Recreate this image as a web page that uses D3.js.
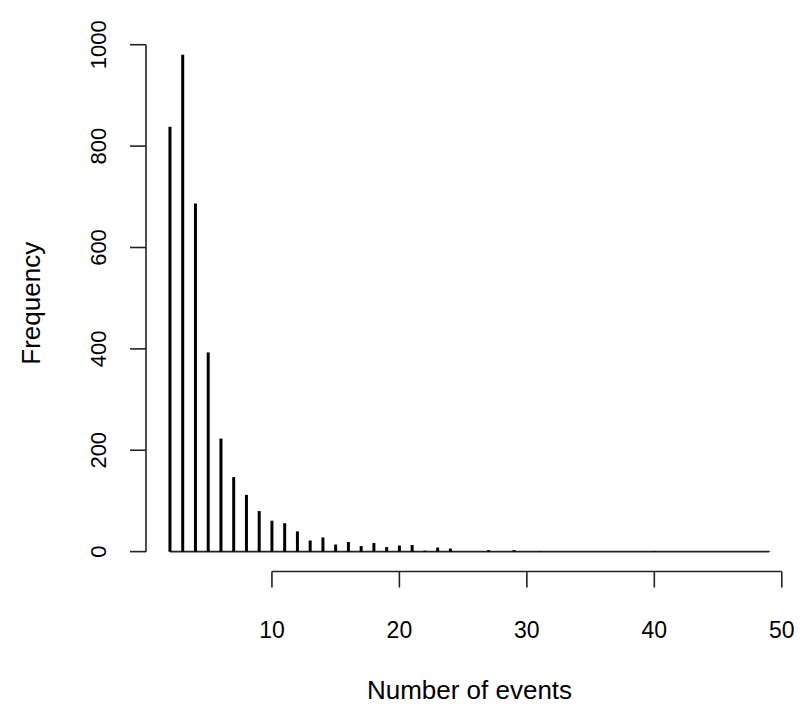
<!DOCTYPE html>
<html>
<head>
<meta charset="utf-8">
<script src="https://cdn.jsdelivr.net/npm/d3@7"></script>
<style>
  body { margin: 0; background: #fff; }
  text { font-family: "Liberation Sans", Arial, sans-serif; fill: #000; }
</style>
</head>
<body>
<svg id="chart" width="802" height="707"></svg>
<script>
// number of events and how often each occurred
const events = [2, 3, 4, 5, 6, 7, 8, 9, 10, 11, 12, 13, 14, 15, 16, 17, 18, 19, 20, 21, 22, 23, 24, 27, 29, 31, 40, 49];
const freq   = [838, 980, 687, 393, 223, 147, 112, 80, 61, 56, 40, 22, 28, 14, 19, 11, 17, 9, 12, 13, 2, 8, 6, 3, 3, 1, 1, 1];
const xTicks = [10, 20, 30, 40, 50];
const yTicks = [0, 200, 400, 600, 800, 1000];

const svg = d3.select('#chart');

// R style range padding of 4%
const pad = (lo, hi) => [lo - (hi - lo) * 0.04, hi + (hi - lo) * 0.04];
const xDom = pad(d3.min(events), d3.max(events));
const yDom = pad(0, d3.max(freq));

const x = d3.scaleLinear().domain(xDom).range([146, 793]);
const y = d3.scaleLinear().domain(yDom).range([571.5, 35]);

// baseline along zero
svg.append('line')
    .attr('x1', x(d3.min(events))).attr('x2', x(d3.max(events)))
    .attr('y1', y(0)).attr('y2', y(0))
    .attr('stroke', '#222').attr('stroke-width', 1.6);

// vertical lines (type = "h")
svg.selectAll('line.bar')
    .data(events)
    .enter().append('line')
    .attr('class', 'bar')
    .attr('x1', d => x(d)).attr('x2', d => x(d))
    .attr('y1', y(0))
    .attr('y2', (d, i) => y(freq[i]))
    .attr('stroke', '#000')
    .attr('stroke-width', 3);

// y axis
const yAxis = svg.append('g').attr('transform', 'translate(146,0)');
yAxis.append('line')
    .attr('x1', 0).attr('x2', 0)
    .attr('y1', y(yTicks[0])).attr('y2', y(yTicks[yTicks.length - 1]))
    .attr('stroke', '#222').attr('stroke-width', 1.6);
yTicks.forEach(t => {
    yAxis.append('line')
        .attr('x1', 0).attr('x2', -16)
        .attr('y1', y(t)).attr('y2', y(t))
        .attr('stroke', '#222').attr('stroke-width', 1.6);
    yAxis.append('text')
        .attr('transform', `translate(-40,${y(t)}) rotate(-90)`)
        .attr('text-anchor', 'middle')
        .attr('font-size', '22px')
        .text(t);
});

// x axis
const xAxis = svg.append('g').attr('transform', 'translate(0,571.5)');
xAxis.append('line')
    .attr('x1', x(xTicks[0])).attr('x2', x(xTicks[xTicks.length - 1]))
    .attr('y1', 0).attr('y2', 0)
    .attr('stroke', '#222').attr('stroke-width', 1.6);
xTicks.forEach(t => {
    xAxis.append('line')
        .attr('x1', x(t)).attr('x2', x(t))
        .attr('y1', 0).attr('y2', 16)
        .attr('stroke', '#222').attr('stroke-width', 1.6);
    xAxis.append('text')
        .attr('x', x(t)).attr('y', 66)
        .attr('text-anchor', 'middle')
        .attr('font-size', '23px')
        .text(t);
});

// axis titles
svg.append('text')
    .attr('x', (146 + 793) / 2).attr('y', 699)
    .attr('text-anchor', 'middle')
    .attr('font-size', '26px')
    .text('Number of events');

svg.append('text')
    .attr('transform', `translate(40,${(35 + 571.5) / 2}) rotate(-90)`)
    .attr('text-anchor', 'middle')
    .attr('font-size', '26px')
    .text('Frequency');
</script>
</body>
</html>
